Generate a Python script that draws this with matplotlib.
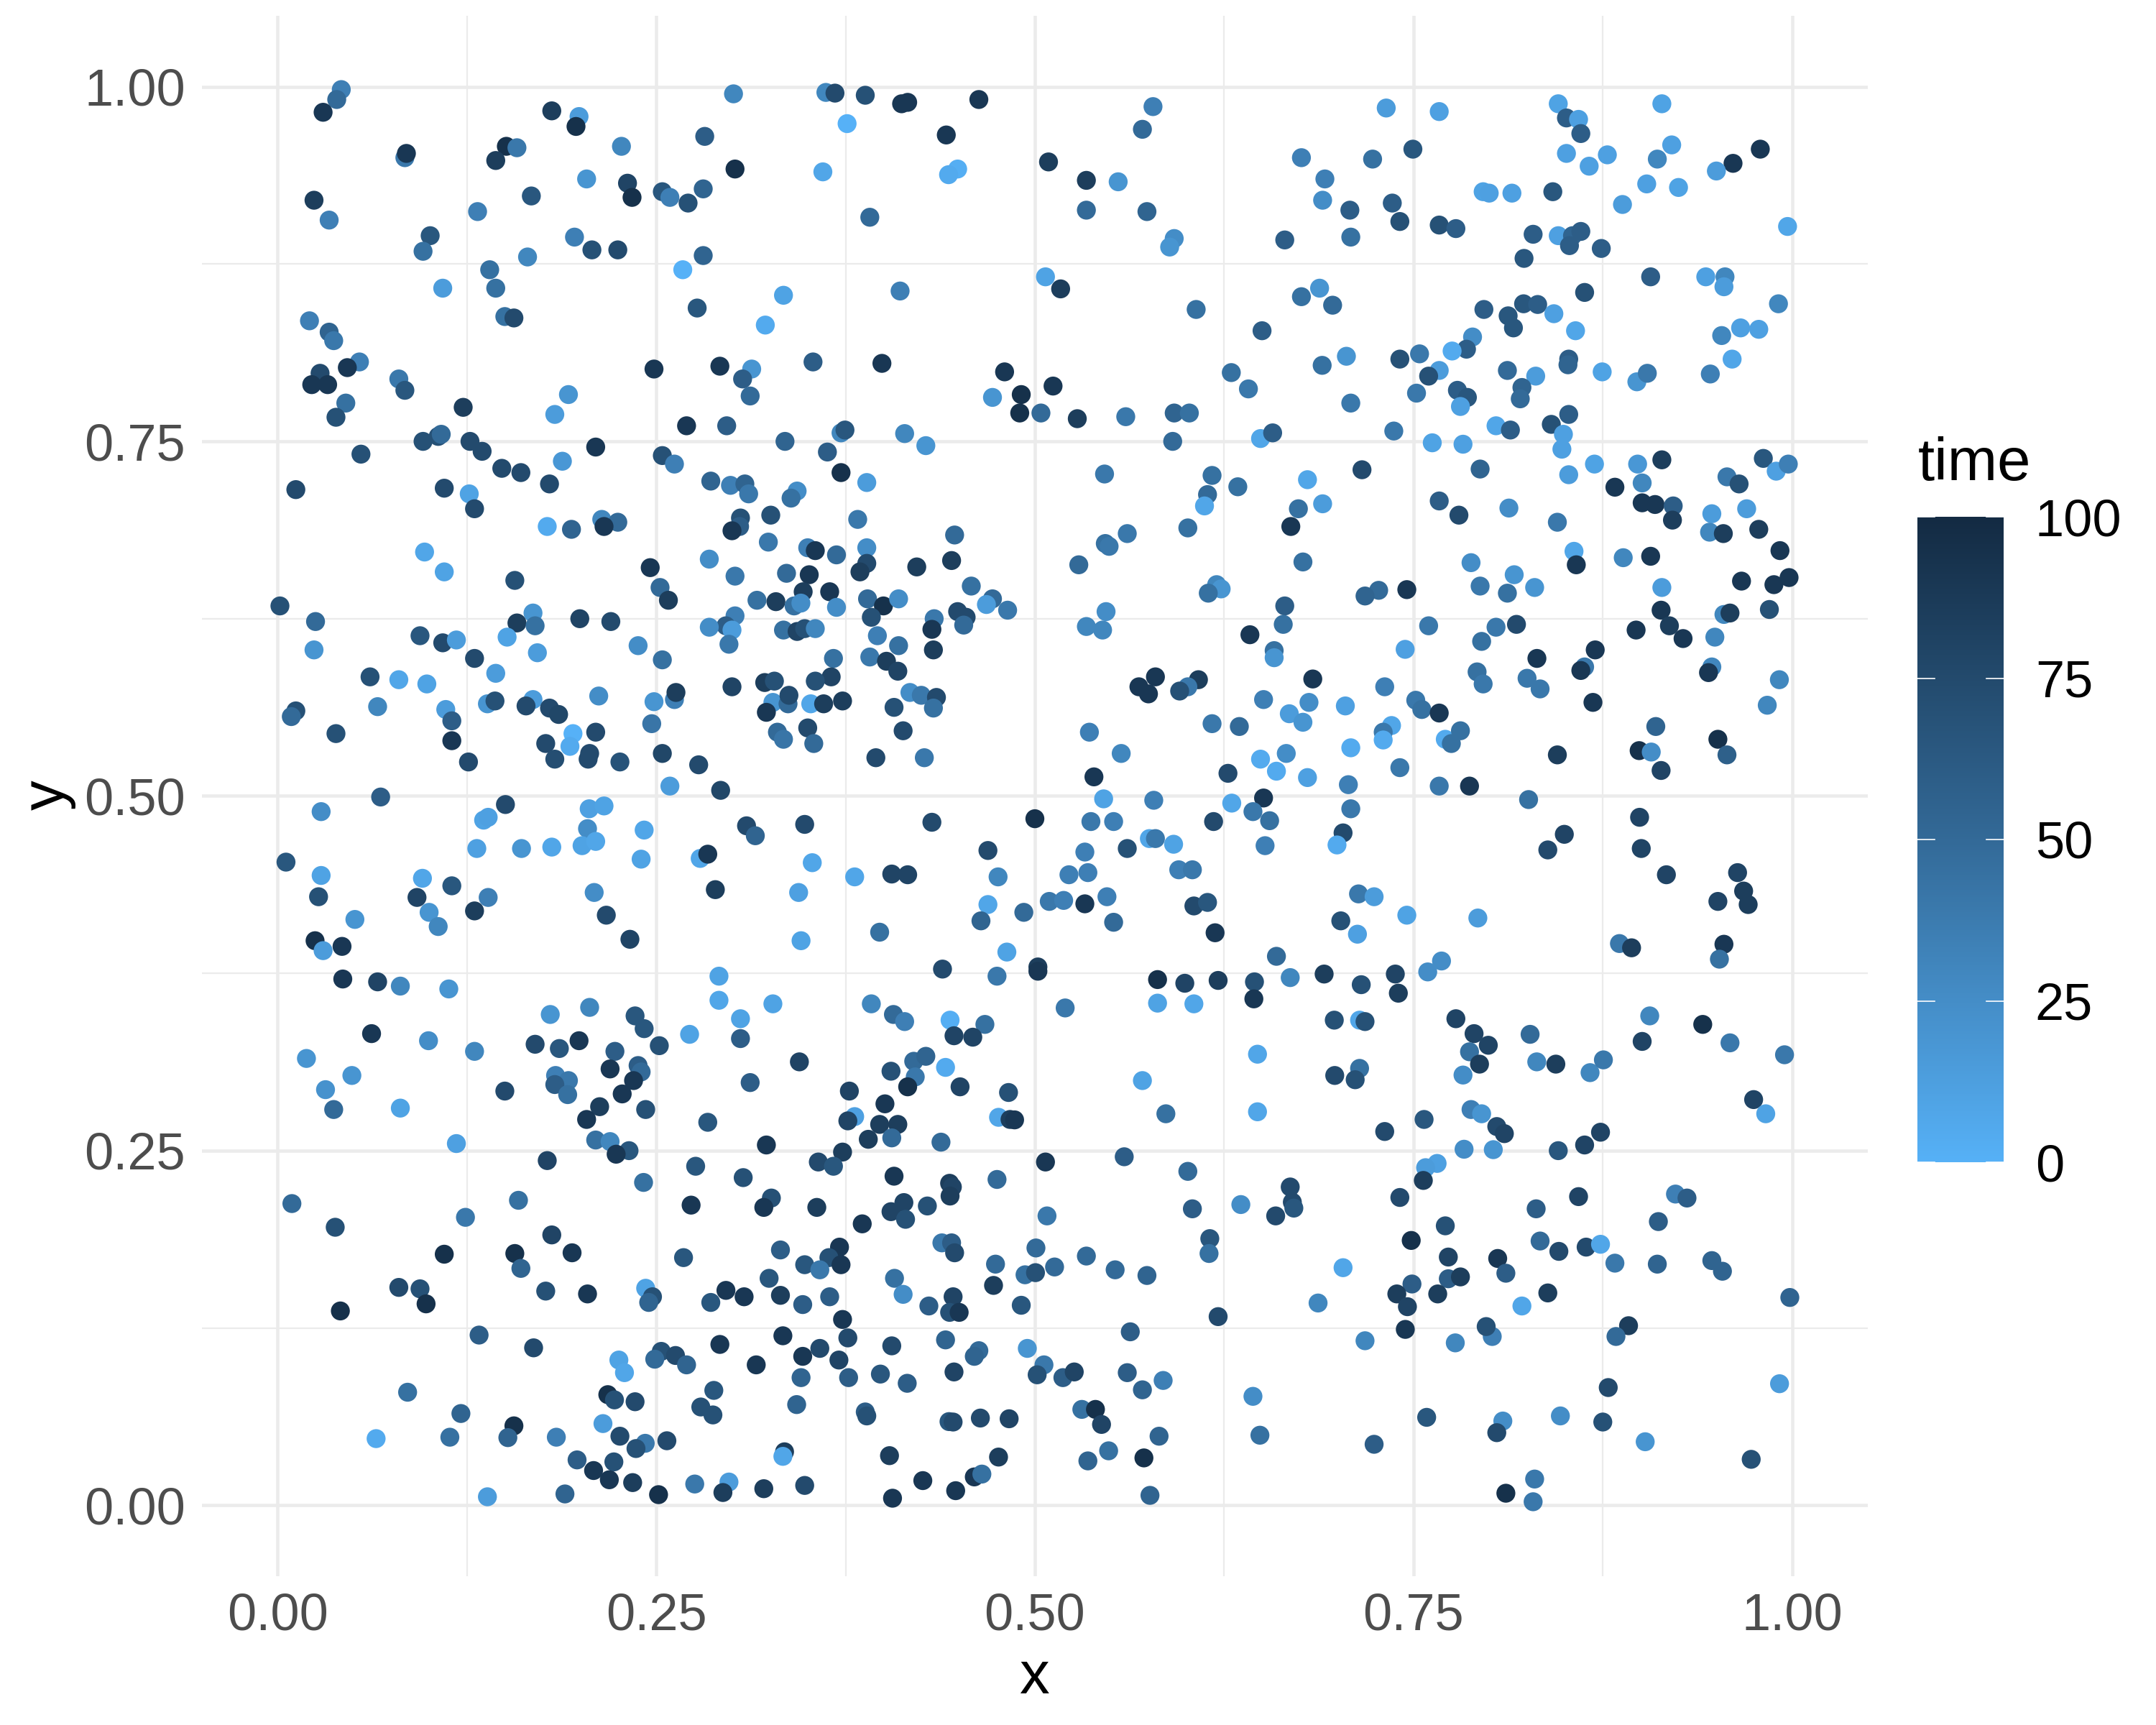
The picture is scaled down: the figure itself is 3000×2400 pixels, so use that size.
import numpy as np
import matplotlib
matplotlib.use("Agg")
import matplotlib.pyplot as plt
from matplotlib.colors import LinearSegmentedColormap

plt.rcParams['font.family'] = ['Liberation Sans', 'DejaVu Sans']

# upper left part of the panel
x_a = [.042,.039,.030,.181,.199,.197,.227,.282,.301,.302,
       .362,.368,.388,.412,.416,.463,.4415,.376,.360,.449,
       .443,.084,.085,.151,.158,.144,.024,.034,.204,.231,
       .234,.254,.259,.271,.281,.1675,.132,.1007,.096,.165,
       .196,.2075,.2246,.281,.2675,.140,.144,.109,.277,.334,
       .322,.391,.411,.021,.034,.037,.150,.156,.054,.028,
       .046,.0225,.033,.080,.084,.045,.0385,.1225,.2485,.292,
       .313,.307,.312,.3535,.399,.480,.491,.472,.490,.192,
       .183,.270,.2965,.335,.372,.3746,.414,.428,.096,.106,
       .108,.127,.135,.055,.210,.254,.262,.148,.1606,.188,
       .1795,.286,.299,.3085,.311,.343,.339,.363,.372,.389,
       .012,.110,.1265,.130,.178,.194,.214,.2246,.2155,.3056,
       .305,.300,.3256,.383,.447,.324,.350,.355,.369,.389,
       .389,.3845,.422,.445,.097,.110,.1566,.246,.285,.302,
       .2525,.258,.336,.351,.347,.3645,.3165,.329,.341,.3455,
       .369,.3895,.400,.392,.410,.458,.472,.468,.482,.449,
       .4546,.453,.4335,.432,.433,.0015,.025,.024,.094,.109,
       .118,.1686,.158,.170,.1995,.220,.1515,.1715,.238,.254,
       .302,.296,.300,.285,.298,.334,.343,.348,.355,.396,
       .410,.391,.367,.402,.4095,.3655,.355,.3216,.328,.300,
       .130,.144,.061,.080,.0985,.066,.012,.009,.111,.1385,
       .1435,.1686,.164,.1795,.1855,.212,.2485,.262,.263,.327,
       .337,.3376,.3227,.352,.3605,.373,.407,.4175,.425,.435,
       .433]
y_a = [.998,.991,.982,.983,.979,.972,.958,.965,.995,.942,
       .996,.9955,.994,.988,.989,.991,.966,.974,.940,.942,
       .938,.950,.953,.958,.957,.948,.920,.906,.935,.932,
       .922,.926,.922,.918,.928,.923,.912,.895,.884,.880,
       .894,.885,.885,.881,.871,.871,.858,.858,.844,.853,
       .832,.908,.856,.835,.827,.821,.838,.837,.806,.798,
       .802,.790,.790,.794,.786,.777,.767,.774,.801,.803,
       .801,.794,.782,.806,.805,.799,.783,.781,.770,.783,
       .769,.761,.761,.750,.756,.758,.7555,.747,.750,.7535,
       .755,.750,.743,.741,.746,.740,.734,.731,.728,.736,
       .720,.722,.719,.720,.713,.715,.710,.7425,.728,.721,
       .716,.717,.713,.7025,.690,.688,.695,.693,.690,.696,
       .690,.687,.698,.695,.684,.679,.675,.673,.670,.675,
       .664,.658,.6615,.666,.672,.658,.652,.661,.667,.655,
       .647,.638,.657,.656,.644,.644,.638,.637,.634,.636,
       .633,.639,.634,.626,.639,.648,.639,.635,.631,.630,
       .626,.6205,.625,.6175,.603,.634,.623,.603,.613,.608,
       .610,.629,.622,.620,.625,.623,.612,.601,.606,.596,
       .627,.620,.617,.619,.607,.617,.616,.618,.618,.613,
       .606,.598,.597,.595,.588,.584,.581,.580,.581,.577,
       .597,.5865,.584,.582,.579,.563,.560,.556,.561,.565,
       .567,.568,.5635,.562,.5575,.5705,.5665,.568,.573,.566,
       .565,.571,.559,.565,.565,.567,.5625,.573,.571,.5695,
       .562]
t_a = [35,50,90,85,15,95,30,60,30,95,
       30,75,70,90,90,90,90,0,8,2,
       5,40,90,95,40,85,85,35,20,80,
       95,65,35,70,55,65,35,65,45,30,
       35,70,75,55,0,45,45,15,65,10,
       5,50,35,35,55,40,45,75,35,75,
       90,90,90,40,65,45,70,85,90,90,
       20,60,50,60,90,90,95,20,95,20,
       15,90,60,55,30,65,30,20,70,70,
       50,75,75,70,90,70,35,75,75,18,
       75,55,35,55,40,25,45,60,95,15,
       75,75,10,75,5,55,30,50,90,70,
       60,90,70,40,50,40,35,90,50,25,
       75,85,85,85,8,10,70,90,25,40,
       50,85,50,90,85,90,45,85,45,25,
       25,50,95,70,25,45,50,15,40,75,
       75,50,40,90,85,70,50,20,65,75,
       15,20,85,45,80,75,10,15,25,45,
       35,60,15,25,40,45,80,70,30,35,
       45,40,45,85,80,80,70,85,70,80,
       75,15,70,8,10,30,70,50,15,20,
       70,15,75,75,78,25,20,35,85,20,
       50,75,90,8,85,85,70,25,40,75,
       45]

# upper right part of the panel
x_b = [.578,.571,.509,.534,.555,.534,.574,.592,.589,.507,
       .517,.6065,.676,.723,.7496,.732,.767,.8456,.851,.859,
       .8605,.851,.866,.878,.914,.9205,.911,.961,.979,.950,
       .904,.925,.796,.800,.815,.842,.888,.6915,.690,.708,
       .736,.741,.767,.778,.665,.7086,.829,.8456,.855,.8605,
       .853,.874,.823,.997,.9066,.943,.9557,.955,.991,.863,
       .688,.676,.6966,.650,.7965,.8227,.832,.8125,.816,.8427,
       .857,.789,.785,.7755,.7057,.6897,.754,.741,.767,.760,
       .752,.812,.8307,.8525,.852,.8746,.8975,.9044,.946,.9604,
       .9535,.966,.978,.6297,.641,.7086,.779,.7856,.781,.8216,
       .8205,.8045,.814,.841,.8525,.849,.848,.737,.7624,.7827,
       .649,.657,.591,.560,.592,.602,.528,.504,.512,.546,
       .617,.634,.614,.612,.601,.561,.5465,.549,.529,.680,
       .716,.794,.8525,.8695,.898,.914,.883,.901,.901,.9095,
       .9215,.921,.947,.970,.9455,.9546,.978,.992,.957,.965,
       .981,.9895,.9975,.690,.674,.669,.767,.780,.813,.845,
       .856,.8575,.8885,.9066,.677,.788,.8165,.794,.812,.830,
       .7456,.727,.718,.620,.623,.6145,.665,.664,.914,.9666,
       .988,.998,.9135,.955,.959,.985,.547,.534,.5447,.760,
       .8045,.818,.642,.658,.658,.7445,.795,.897,.919,.928,
       .949,.870,.8315,.863,.8605,.947,.9448,.9916,.5687,.5796,
       .575,.608,.601,.5956,.6835,.651,.681,.668,.705,.731,
       .792,.796,.825,.8336,.8685,.9836,.7515,.7555,.767]
y_b = [.986,.970,.947,.934,.933,.913,.912,.893,.887,.866,
       .8575,.843,.950,.949,.956,.985,.9825,.988,.978,.977,
       .967,.953,.944,.952,.988,.959,.949,.946,.956,.9406,
       .9315,.929,.926,.925,.925,.926,.917,.935,.920,.913,
       .918,.905,.9025,.900,.892,.894,.896,.895,.895,.898,
       .888,.886,.879,.9015,.866,.866,.866,.859,.847,.855,
       .858,.852,.846,.828,.843,.847,.8465,.8385,.830,.840,
       .828,.8236,.815,.8137,.810,.8036,.8117,.808,.800,.796,
       .784,.800,.796,.808,.804,.799,.792,.798,.7975,.808,
       .8246,.830,.829,.7985,.787,.777,.786,.781,.7746,.788,
       .780,.761,.758,.762,.769,.755,.7445,.7573,.749,.748,
       .752,.756,.750,.7674,.770,.770,.766,.770,.789,.727,
       .726,.718,.7125,.7045,.689,.685,.678,.676,.663,.723,
       .730,.7305,.7265,.734,.734,.737,.7177,.7207,.7067,.7055,
       .7045,.6945,.699,.7025,.686,.685,.688,.673,.725,.720,
       .738,.729,.734,.706,.7025,.690,.708,.698,.703,.693,
       .6725,.663,.668,.669,.665,.6645,.656,.648,.643,.647,
       .6455,.645,.641,.649,.646,.643,.634,.621,.647,.6515,
       .649,.654,.631,.628,.629,.6315,.630,.6195,.617,.620,
       .619,.621,.6137,.6025,.5975,.6034,.609,.617,.620,.611,
       .612,.603,.597,.591,.5885,.591,.587,.582,.577,.584,
       .572,.582,.577,.574,.5825,.568,.566,.558,.5635,.577,
       .5875,.579,.583,.5755,.566,.564,.5675,.561,.5585]
t_b = [35,50,85,85,20,50,55,25,20,10,
       85,45,35,45,65,15,12,10,60,12,
       60,12,12,12,10,12,30,90,90,15,
       12,10,10,12,12,65,15,35,25,60,
       60,70,70,60,60,45,60,12,55,60,
       60,60,65,8,60,12,30,15,30,70,
       20,45,50,60,60,65,60,65,65,12,
       8,25,60,5,20,45,40,70,15,70,
       40,50,15,60,55,10,20,40,35,8,
       30,12,12,45,40,40,60,65,12,55,
       50,8,60,70,60,12,12,40,10,12,
       8,60,50,40,55,45,85,50,90,40,
       45,45,50,8,45,40,45,40,50,8,
       75,55,15,10,18,85,90,30,90,90,
       60,85,15,15,30,85,85,90,40,70,
       65,12,35,15,45,90,60,75,25,40,
       8,90,30,90,45,25,20,40,45,20,
       90,50,55,30,20,45,60,45,15,90,
       90,90,90,30,85,70,25,30,30,40,
       40,75,90,45,20,12,45,90,85,90,
       30,90,90,40,90,30,90,30,90,90,
       90,85,40,70,90,35,25,15,12,35,
       45,40,40,40,90,30,40,45,90]

# band around y = 0.52
x_c = [.0385,.115,.115,.126,.177,.183,.195,.193,.210,.206,
       .205,.226,.247,.254,.278,.259,.2925,.330,.334,.350,
       .354,.413,.395,.427,.536,.557,.539,.617,.635,.6275,
       .649,.666,.6595,.680,.7355,.730,.730,.7086,.741,.707,
       .767,.787,.771,.775,.781,.845,.910,.899,.907,.951,
       .957,.9135,.677]
y_c = [.544,.553,.539,.524,.537,.526,.544,.535,.545,.530,
       .526,.524,.551,.530,.522,.507,.504,.545,.540,.548,
       .537,.546,.527,.527,.545,.530,.5135,.551,.549,.516,
       .526,.530,.5175,.513,.5497,.545,.5395,.534,.520,.508,
       .507,.507,.540,.537,.546,.529,.549,.532,.531,.540,
       .529,.518,.552]
t_c = [70,60,90,75,75,72,0,5,75,75,
       75,68,42,78,75,15,78,50,42,75,
       50,75,75,40,35,30,90,40,50,75,
       5,25,5,12,8,40,5,5,40,35,
       40,90,5,45,45,85,55,95,25,95,
       58,80,20]

# lower left part of the panel
x_d = [.068,.1504,.0287,.2057,.2155,.136,.139,.2046,.242,.3096,
       .3154,.348,.432,.500,.0055,.1315,.161,.181,.201,.210,
       .240,.279,.284,.353,.469,.381,.4055,.416,.4757,.0287,
       .0956,.115,.027,.092,.139,.130,.100,.106,.051,.209,
       .217,.289,.344,.2326,.3456,.469,.4644,.4927,.3975,.4815,
       .0247,.030,.0425,.043,.066,.081,.113,.439,.475,.502,
       .502,.2914,.2914,.327,.3056,.392,.4066,.414,.444,.467,
       .4466,.459,.062,.0996,.130,.019,.049,.0316,.037,.081,
       .118,.180,.206,.236,.242,.272,.3056,.252,.199,.170,
       .186,.2227,.2195,.238,.240,.235,.1835,.192,.183,.1915,
       .150,.2275,.2126,.243,.204,.312,.3445,.405,.420,.428,
       .421,.441,.416,.4506,.4826,.3775,.401,.381,.3765,.3975,
       .4095,.4055,.390,.438,.476,.4836,.4866,.284,.210,.2195,
       .232,.2235,.3227,.373,.357,.367,.178,.276,.3074,.407,
       .4437,.4455,.444,.475,.507,.2416,.159,.0094,.124,.508,
       .273,.326,.321,.356,.4135,.405,.429,.4146,.386,.038,
       .181,.4386,.445,.447,.5007,.371,.332,.364,.268,.110,
       .1566,.1944,.1606,.348,.358,.372,.474,.4935,.5004,.513,
       .3245,.4073,.4727,.080,.094,.098,.177,.2046,.0414,.243,
       .2475,.245,.286,.296,.308,.332,.3467,.3645,.413,.446,
       .430,.491,.4437,.450,.373,.133,.169,.3336,.292,.3765,
       .4055,.441,.463,.460,.495,.358,.3467,.3706,.2533,.2627,
       .249,.270,.2253,.229,.316,.3456,.377,.398,.4157,.4466,
       .506,.5015,.0858,.218,.2224,.236,.288,.2794,.2874,.3427,
       .388,.389,.121,.156,.152,.065,.1137,.184,.2148,.226,
       .2427,.2366,.257,.1977,.222,.2086,.219,.2344,.2515,.1897,
       .1385,.2754,.298,.294,.321,.348,.3347,.3336,.404,.406,
       .426,.4477,.460,.465,.476,.4433,.446,.464,.483]
y_d = [.4993,.494,.489,.491,.493,.483,.485,.477,.476,.479,
       .472,.480,.4815,.484,.4534,.463,.463,.464,.465,.468,
       .4555,.456,.459,.453,.4616,.443,.445,.4445,.443,.444,
       .442,.4367,.429,.4285,.4285,.419,.418,.408,.413,.432,
       .416,.434,.432,.399,.398,.4235,.412,.418,.404,.390,
       .398,.391,.394,.371,.369,.366,.364,.378,.373,.3795,
       .3765,.373,.356,.3535,.343,.3535,.346,.341,.342,.339,
       .331,.330,.3325,.3275,.320,.315,.303,.293,.279,.280,
       .255,.346,.351,.345,.336,.332,.329,.324,.3275,.325,
       .322,.320,.3076,.310,.3055,.2994,.303,.2994,.2966,.2895,
       .292,.290,.281,.279,.272,.298,.3126,.306,.313,.3165,
       .302,.3087,.295,.295,.291,.292,.283,.274,.271,.2685,
       .2685,.259,.258,.256,.2735,.272,.2717,.270,.2575,.2564,
       .250,.2475,.254,.249,.242,.239,.243,.239,.231,.232,
       .227,.2244,.218,.2297,.242,.2276,.215,.2127,.203,.204,
       .2116,.2166,.210,.210,.2134,.207,.211,.2016,.1984,.196,
       .1906,.185,.185,.178,.1814,.182,.180,.1746,.1746,.177,
       .1775,.178,.167,.1696,.166,.1696,.170,.1625,.164,.168,
       .160,.160,.155,.1536,.1526,.142,.151,.149,.137,.153,
       .147,.143,.143,.1515,.147,.148,.1415,.147,.1487,.147,
       .1405,.141,.136,.136,.131,.120,.111,.1195,.1134,.118,
       .1124,.1166,.109,.105,.1106,.1106,.105,.1024,.1085,.1056,
       .103,.099,.1024,.0935,.099,.090,.090,.0925,.086,.094,
       .099,.092,.0797,.078,.0743,.073,.081,.0693,.0637,.071,
       .0658,.063,.0647,.056,.0477,.047,.048,.048,.0576,.0487,
       .0437,.040,.0455,.032,.0306,.0245,.018,.016,.0075,.008,
       .006,.015,.0164,.009,.0117,.014,.0377,.0345,.035,.005,
       .0174,.0103,.020,.022,.034,.059,.0587,.0615,.061]
t_d = [60,75,25,12,10,10,12,25,8,75,
       55,75,75,95,65,12,20,8,10,8,
       10,8,90,8,75,8,80,80,30,10,
       8,65,70,80,35,85,20,30,20,25,
       75,85,12,80,10,8,55,50,45,10,
       95,15,90,90,80,30,20,75,40,85,
       90,10,8,10,10,30,50,35,2,45,
       80,80,90,25,30,20,20,22,50,10,
       12,20,30,65,65,10,60,70,90,75,
       65,60,90,60,50,90,35,40,60,45,
       75,90,85,70,90,60,80,70,50,55,
       40,5,95,80,70,80,90,12,80,85,
       85,50,85,50,8,85,90,65,45,30,
       65,90,90,85,75,65,80,65,70,90,
       85,80,85,50,90,45,45,50,40,40,
       90,70,90,85,80,80,70,70,90,70,
       80,40,60,75,50,90,60,70,65,95,
       95,90,55,65,40,90,50,45,70,50,
       65,45,85,75,70,95,70,90,95,10,
       70,55,65,90,90,85,60,60,25,80,
       60,65,70,90,90,60,75,90,90,75,
       75,55,50,55,20,75,90,80,70,75,
       50,55,10,8,90,55,60,65,60,80,
       40,70,45,95,70,75,65,70,70,55,
       60,70,55,95,55,5,45,35,15,75,
       40,70,75,60,70,90,90,85,95,55,
       15,40,15,85,85,75,85,8,85,90,
       90,90,90,45,85,65,75,75,80]

# lower right part of the panel
x_e = [.5454,.5785,.630,.651,.644,.655,.618,.826,.7086,.7035,
       .6995,.652,.537,.552,.8993,.8496,.8387,.9004,.917,.964,
       .968,.971,.951,.5756,.5796,.5916,.561,.533,.5225,.535,
       .595,.604,.5095,.519,.533,.5476,.552,.605,.614,.619,
       .7137,.724,.7456,.7925,.702,.713,.6595,.6686,.886,.894,
       .955,.952,.581,.599,.621,.645,.6446,.581,.605,.520,
       .691,.7155,.738,.740,.7594,.7685,.6977,.7144,.718,.778,
       .790,.7994,.787,.7936,.7827,.827,.8314,.844,.8666,.8754,
       .901,.906,.941,.959,.995,.647,.7144,.698,.7115,.571,
       .5865,.647,.9746,.9826,.731,.757,.788,.795,.805,.810,
       .8735,.863,.8456,.7834,.8027,.559,.601,.604,.6686,.670,
       .671,.659,.636,.7656,.758,.7565,.741,.771,.831,.859,
       .923,.9306,.9117,.7485,.8336,.846,.864,.8735,.883,.911,
       .947,.954,.773,.8056,.811,.773,.781,.749,.739,.766,
       .746,.7446,.8387,.8216,.687,.9985,.7035,.534,.553,.574,
       .6155,.615,.621,.563,.718,.7776,.802,.798,.892,.8837,
       .8786,.9917,.561,.5847,.571,.531,.540,.544,.582,.5487,
       .535,.572,.576,.644,.6486,.724,.7587,.809,.805,.847,
       .875,.903,.973,.830,.811,.829,.5185,.526]
y_e = [.498,.497,.495,.4986,.489,.4826,.482,.4975,.491,.474,
       .4655,.465,.482,.482,.485,.473,.462,.463,.4445,.446,
       .433,.4235,.4257,.470,.470,.466,.463,.4605,.4445,.446,
       .448,.448,.4257,.4264,.424,.429,.411,.4225,.425,.4036,
       .431,.429,.416,.414,.412,.4026,.387,.372,.396,.393,
       .3955,.385,.3706,.368,.370,.369,.357,.354,.3535,.3506,
       .3745,.367,.3745,.361,.376,.3837,.342,.342,.341,.343,
       .3325,.3243,.3197,.311,.3033,.332,.3126,.311,.305,.314,
       .327,.345,.339,.326,.3176,.318,.308,.303,.300,.2994,
       .276,.2774,.286,.276,.2635,.272,.279,.276,.267,.262,
       .263,.254,.25,.251,.2507,.2457,.2354,.209,.2244,.2137,
       .2095,.204,.212,.241,.238,.229,.217,.197,.209,.2176,
       .2194,.2166,.2,.1867,.1863,.179,.182,.184,.1707,.170,
       .1725,.165,.175,.174,.1636,.1597,.161,.156,.149,.149,
       .14,.124,.1497,.1405,.1426,.1465,.1675,.1757,.166,.162,
       .188,.1775,.133,.1223,.116,.1145,.119,.126,.1266,.119,
       .083,.0857,.0935,.088,.0814,.0676,.0676,.057,.0487,.0384,
       .0313,.0334,.007,.0768,.0494,.043,.062,.0594,.0512,.063,
       .0587,.0448,.0324,.0185,.0085,.0025,.090,.094]
t_e = [10,35,8,90,40,45,75,45,40,75,
       5,35,40,35,80,80,75,80,80,80,
       85,85,80,8,40,10,70,35,35,35,
       35,40,40,35,90,35,50,75,65,90,
       40,15,10,15,70,12,50,30,40,85,
       90,45,95,80,85,70,90,10,8,40,
       85,70,80,85,25,25,70,8,70,80,
       80,80,45,85,25,50,30,85,30,40,
       80,30,95,40,40,8,45,75,70,10,
       45,8,80,10,75,65,35,20,75,80,
       80,80,65,25,20,60,50,60,75,75,
       65,75,25,12,15,85,75,70,60,80,
       35,60,60,95,50,75,75,8,40,55,
       55,55,80,90,60,60,85,60,85,85,
       80,90,85,8,30,55,8,50,50,55,
       65,45,75,60,30,30,35,70,85,50,
       75,15,60,35,55,45,95,80,55,45,
       55,95,55,25,45,60,65,25,75,25,
       70,20,70,40,95,40,60,80]

x_vals = np.array(x_a + x_b + x_c + x_d + x_e)
y_vals = np.array(y_a + y_b + y_c + y_d + y_e)
time_vals = np.array(t_a + t_b + t_c + t_d + t_e)

major_ticks = [0, 0.25, 0.5, 0.75, 1]
minor_ticks = [0.125, 0.375, 0.625, 0.875]
tick_labels = ['0.00', '0.25', '0.50', '0.75', '1.00']
time_ticks = [0, 25, 50, 75, 100]

blues = LinearSegmentedColormap.from_list('time', ['#56B1F7', '#336A98', '#132B43'])

W, H = 3000, 2400
fig = plt.figure(figsize=(10, 8), dpi=300)
ax = fig.add_axes([281/W, 1-2193/H, (2599-281)/W, (2193-22)/H])

sc = ax.scatter(x_vals, y_vals, c=time_vals, cmap=blues, vmin=0, vmax=100,
                s=40, linewidths=0, zorder=3, clip_on=False)

ax.set_xlim(-0.05, 1.05)
ax.set_ylim(-0.05, 1.05)
ax.set_xticks(major_ticks)
ax.set_xticklabels(tick_labels)
ax.set_yticks(major_ticks)
ax.set_yticklabels(tick_labels)
ax.set_xticks(minor_ticks, minor=True)
ax.set_yticks(minor_ticks, minor=True)
ax.grid(which='major', color='#EBEBEB', linewidth=1.1, zorder=0)
ax.grid(which='minor', color='#EBEBEB', linewidth=0.55, zorder=0)
ax.set_axisbelow(True)
ax.tick_params(which='both', length=0)
ax.tick_params(axis='both', which='major', labelsize=17.3, labelcolor='#4D4D4D', pad=5.5)
for s in ax.spines.values():
    s.set_visible(False)

fig.text(1439/W, 1-2334/H, 'x', fontsize=20, ha='center', va='center')
fig.text(67/W, 1-1106/H, 'y', fontsize=20, ha='center', va='center', rotation=90)

# colourbar
cax = fig.add_axes([2668/W, 1-1617/H, 120/W, (1617-719)/H])
cb = fig.colorbar(sc, cax=cax, ticks=time_ticks)
cb.outline.set_visible(False)
cb.solids.set_edgecolor('face')
cax.tick_params(length=0, labelsize=17.3, labelcolor='black', pad=10.5)
for t in time_ticks:
    cax.plot([0, 0.2], [t, t], color='white', lw=0.4, clip_on=False)
    cax.plot([0.8, 1], [t, t], color='white', lw=0.4, clip_on=False)
cax.set_xlim(0, 1)
cax.set_ylim(0, 100)
fig.text(2669/W, 1-668/H, 'time', fontsize=20, ha='left', va='baseline')

fig.savefig('out.png', dpi=300, facecolor='white')
